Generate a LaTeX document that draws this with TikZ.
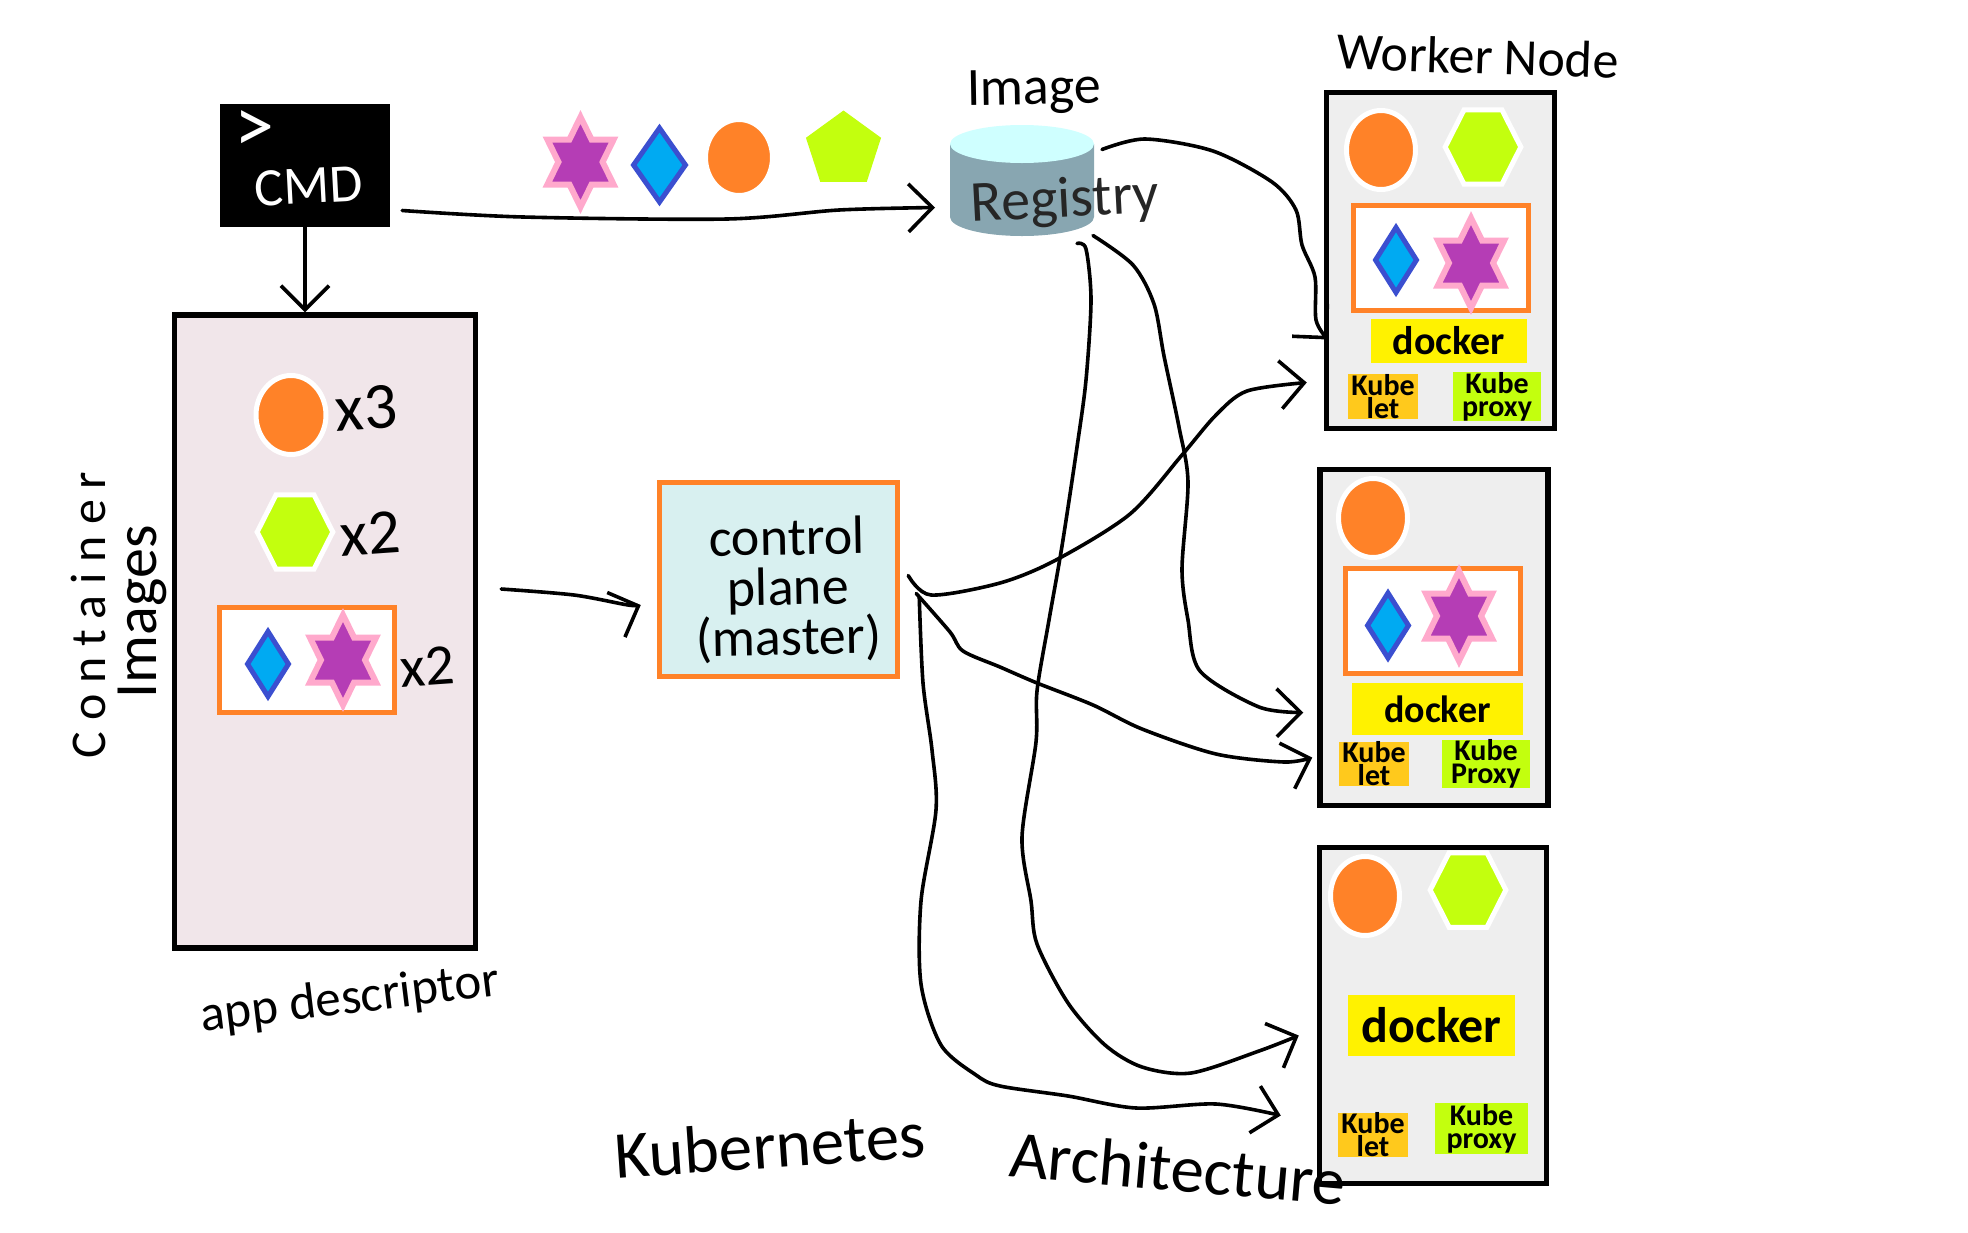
\documentclass[tikz,border=0pt]{standalone}
\usepackage{fontspec}
\setmainfont{Carlito}
\usepackage{tikz}
\usetikzlibrary{arrows.meta}
\usetikzlibrary{positioning, shapes.geometric}

\definecolor{blobcol}{HTML}{FF8228}
\definecolor{limecol}{HTML}{C3FF0E}
\definecolor{gemcol}{HTML}{00AAF2}
\definecolor{gemedge}{HTML}{3B4FD0}
\definecolor{starcol}{HTML}{B53DB5}
\definecolor{staredge}{HTML}{FFA9CC}
\definecolor{dockcol}{HTML}{FFF200}
\definecolor{letcol}{HTML}{FFC91C}
\definecolor{appcol}{HTML}{F1E6EA}
\definecolor{cpcol}{HTML}{D8F0F0}
\definecolor{workcol}{HTML}{EEEEEE}
\definecolor{regtop}{HTML}{CFFFFF}
\definecolor{regbody}{HTML}{88A6B1}

\tikzset{
  panel/.style={rectangle,draw=black,line width=5.5pt,inner sep=0pt},
  podbox/.style={rectangle,draw=blobcol,fill=white,line width=5pt,minimum width=175pt,minimum height=105pt,inner sep=0pt},
  blob/.style={ellipse,fill=blobcol,draw=white,line width=5pt,minimum width=69pt,minimum height=79pt,inner sep=0pt},
  hexa/.style={regular polygon,regular polygon sides=6,fill=limecol,draw=white,line width=5pt,minimum size=86pt,inner sep=0pt,transform shape,xscale=.88},
  gem/.style={diamond,fill=gemcol,draw=gemedge,line width=5pt,minimum width=43pt,minimum height=67pt,inner sep=0pt},
  hexstar/.style={star,star points=6,star point ratio=1.732,fill=starcol,draw=staredge,line width=6pt,minimum size=90pt,inner sep=0pt,transform shape,xscale=.85},
  tag/.style={rectangle,inner sep=0pt,align=center,font=\bfseries\fontsize{30}{23}\selectfont},
  docktag/.style={rectangle,fill=dockcol,inner sep=0pt,font=\bfseries\fontsize{40}{40}\selectfont},
  hand/.style={inner sep=0pt,align=center},
  wire/.style={line width=3.6pt,line cap=round,line join=round}
}

\begin{document}
\begin{tikzpicture}[x=1pt,y=-1pt,>={Straight Barb[length=24pt,width=48pt,line width=3.6pt]}]
  \useasboundingbox (0,0) rectangle (1968,1232);

  % command and first row of images
  \node[rectangle,fill=black,minimum width=170pt,minimum height=123pt] (cmd) at (305,165.5) {};
  \node[hand,white,font=\fontsize{80}{80}\selectfont] (prompt) at (254,132) {>};
  \node[hand,white,rotate=3,font=\fontsize{54}{54}\selectfont] (cmdtext) at (309,186) {CMD};
  \node[hexstar] (s0) at (580.5,162) {};
  \node[gem,minimum width=54pt,minimum height=76pt] (g0) at (659.5,165) {};
  \node[blob,minimum width=67pt,minimum height=76pt] (b0) at (739,157.5) {};
  \node[regular polygon,regular polygon sides=5,fill=limecol,minimum size=79pt,inner sep=0pt] (p0) at (843.5,150) {};

  % registry
  \node[rectangle,minimum width=144pt,minimum height=111pt,inner sep=0pt,outer sep=0pt] (registry) at (1022,180.5) {};
  \fill[regbody] ([yshift=-19pt]registry.north west) -- ([yshift=19pt]registry.south west) arc[start angle=180,end angle=360,x radius=72pt,y radius=19pt] -- ([yshift=-19pt]registry.north east) -- cycle;
  \fill[regtop] ([yshift=-19pt]registry.north) ellipse [x radius=72pt,y radius=19pt];
  \node[hand,rotate=1,font=\fontsize{54}{54}\selectfont] (imagetext) at (1034,92) {Image};
  \node[hand,rotate=3,text=black!85,font=\fontsize{58}{58}\selectfont] (regtext) at (1065,202) {Registry};

  % app descriptor
  \node[panel,fill=appcol,minimum width=301pt,minimum height=633pt] (app) at (325,631.5) {};
  \node[blob,minimum width=70pt] (b1) at (291,415) {};
  \node[hexa] (h1) at (295,532) {};
  \node[podbox] (pod1) at (307,659.5) {};
  \node[gem] (g1) at (268,664) {};
  \node[hexstar] (s1) at (343,660) {};
  \node[hand,rotate=4,font=\fontsize{66}{66}\selectfont] (n1) at (366,408) {x3};
  \node[hand,rotate=4,font=\fontsize{64}{64}\selectfont] (n2) at (370,534) {x2};
  \node[hand,rotate=4,font=\fontsize{58}{58}\selectfont] (n3) at (427,667) {x2};
  \node[hand,rotate=90,font=\addfontfeature{LetterSpace=22}\fontsize{50}{50}\selectfont] (conttext) at (88,615) {Container};
  \node[hand,rotate=90,font=\fontsize{60}{60}\selectfont] (imgstext) at (142,612) {Images};
  \node[hand,rotate=7,font=\fontsize{51}{51}\selectfont] (apptext) at (350,1000) {app descriptor};

  % control plane
  \node[panel,draw=blobcol,fill=cpcol,minimum width=238pt,minimum height=194pt] (master) at (778.5,579.5) {};
  \node[hand,rotate=1,font=\fontsize{54}{50}\selectfont] (mastertext) at (788,590) {control\\plane\\(master)};

  % worker 1
  \node[hand,rotate=-2,font=\fontsize{52}{52}\selectfont] (worktext) at (1478,56) {Worker Node};
  \node[panel,fill=workcol,minimum width=228pt,minimum height=336pt] (w1) at (1440.5,260.5) {};
  \node[blob] (b2) at (1381,150) {};
  \node[hexa] (h2) at (1483,147) {};
  \node[podbox] (pod2) at (1441,258) {};
  \node[gem] (g2) at (1396,260) {};
  \node[hexstar] (s2) at (1471,263) {};
  \node[docktag,minimum width=156pt,minimum height=44pt] (d1) at (1449,341) {docker};
  \node[tag,fill=letcol,minimum width=70pt,minimum height=41pt] (k1) at (1383,396.5) {Kube\\let};
  \node[tag,fill=limecol,minimum width=88pt,minimum height=43pt] (x1) at (1497,396.5) {Kube\\proxy};

  % worker 2
  \node[panel,fill=workcol,minimum width=228pt,minimum height=336pt] (w2) at (1434,637.5) {};
  \node[blob] (b3) at (1373,518) {};
  \node[podbox] (pod3) at (1433,621) {};
  \node[gem] (g3) at (1388,625.5) {};
  \node[hexstar] (s3) at (1459,616) {};
  \node[docktag,minimum width=171pt,minimum height=52pt,font=\bfseries\fontsize{38}{38}\selectfont] (d2) at (1437.5,709) {docker};
  \node[tag,fill=letcol,minimum width=70pt,minimum height=42pt] (k2) at (1374,764) {Kube\\let};
  \node[tag,fill=limecol,minimum width=88pt,minimum height=42pt] (x2) at (1486,764) {Kube\\Proxy};

  % worker 3
  \node[panel,fill=workcol,minimum width=227pt,minimum height=336pt] (w3) at (1433,1015.5) {};
  \node[blob] (b4) at (1365,896) {};
  \node[hexa] (h4) at (1468,890) {};
  \node[docktag,minimum width=167pt,minimum height=61pt,font=\bfseries\fontsize{50}{50}\selectfont] (d3) at (1431.5,1025.5) {docker};
  \node[tag,fill=letcol,minimum width=70pt,minimum height=42pt] (k3) at (1373,1135) {Kube\\let};
  \node[tag,fill=limecol,minimum width=93pt,minimum height=51pt] (x3) at (1481.5,1128.5) {Kube\\proxy};

  % connectors
  \draw[wire,->] (cmd.south) -- (cmd.south |- app.north);
  \draw[wire,->] plot[smooth,tension=.5] coordinates {([xshift=12pt,yshift=-45pt]cmd.east) (523,217) (727,219) (839,210) ([xshift=-15pt,yshift=-27pt]registry.west)};
  \draw[wire,->] plot[smooth,tension=.5] coordinates {([xshift=23pt]app.east |- 0,589) (574,595) (628,605) ([xshift=-16pt]master.west |- 0,605)};
  \draw[wire,->] plot[smooth,tension=.5] coordinates {([xshift=8pt,yshift=31pt]registry.east) (1145,139) (1213,151) (1272,182) (1296,210) (1302,245) (1315,277) (1316,320) ([xshift=4pt,yshift=-79pt]w1.west)};
  \draw[wire,->] plot[smooth,tension=.5] coordinates {([xshift=-1pt,yshift=-55pt]registry.east) (1133,265) (1154,304) (1164,356) (1179,427) (1188,482) (1182,569) (1188,620) (1200,671) (1259,707) ([xshift=-14pt,yshift=-75pt]w2.west)};
  \draw[wire,->] plot[smooth,tension=.5] coordinates {([xshift=-17pt,yshift=-63pt]registry.east) (1086,249) (1091,300) (1086,380) (1077,447) (1062,546) (1049,620) (1037,691) (1036,742) (1022,837) (1031,901) (1037,944) (1068,1003) (1105,1045) (1142,1067) (1191,1073) (1259,1051) ([xshift=-18pt,yshift=-20pt]w3.west)};
  \draw[wire,->] plot[smooth,tension=.5] coordinates {([xshift=8pt,yshift=4pt]master.east) (931,595) (1000,583) (1056,560) (1130,514) (1182,455) (1216,415) (1247,391) ([xshift=-17pt,yshift=-122pt]w1.west)};
  \draw[wire,->] plot[smooth,tension=.5] coordinates {([xshift=16pt,yshift=-14pt]master.east) (950,632) (963,651) (1000,667) (1037,683) (1093,705) (1142,729) (1216,754) (1284,762) ([xshift=-5pt,yshift=-120pt]w2.west)};
  \draw[wire,->] plot[smooth,tension=.5] coordinates {([xshift=19pt,yshift=-18pt]master.east) (923,683) (932,750) (936,810) (921,901) (921,984) (941,1045) (976,1075) (1000,1086) (1068,1096) (1136,1108) (1216,1104) ([xshift=-36pt,yshift=-100pt]w3.west)};

  % title
  \node[hand,rotate=4,font=\fontsize{67}{67}\selectfont] (kubetext) at (770,1145) {Kubernetes};
  \node[hand,rotate=-5,font=\fontsize{67}{67}\selectfont] (archtext) at (1178,1168) {Architecture};
\end{tikzpicture}
\end{document}
